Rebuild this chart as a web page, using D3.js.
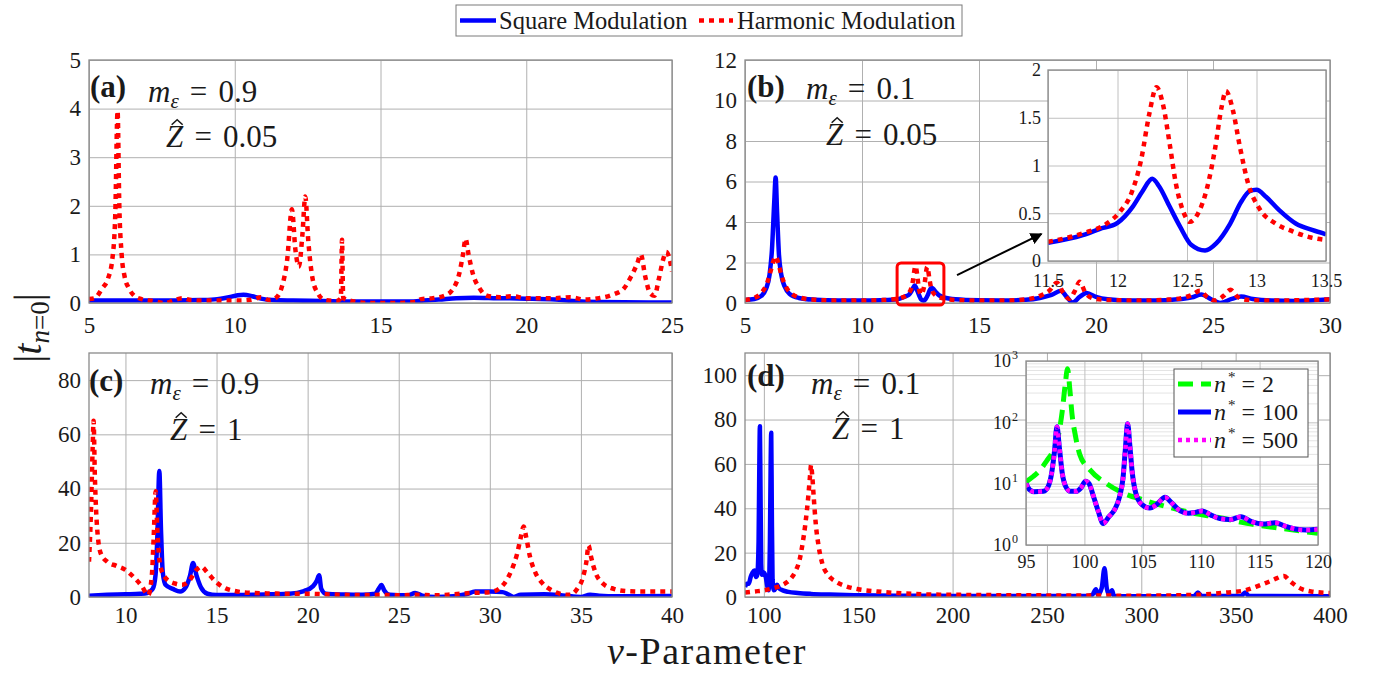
<!DOCTYPE html>
<html>
<head>
<meta charset="utf-8">
<script src="https://cdn.jsdelivr.net/npm/d3@7"></script>
<style>
  body { margin: 0; background: #fff; }
  svg text { font-family: "Liberation Serif", "Times New Roman", serif; fill: #1a1a1a; }
</style>
</head>
<body>
<svg id="chart" width="1373" height="673"></svg>
<script>
// ---------------------------------------------------------------
// |t_{n=0}| versus nu for square and harmonic modulation profiles
// ---------------------------------------------------------------

// Panel (a): m_eps = 0.9, Z = 0.05
const aTicksX = [5, 10, 15, 20, 25];
const aTicksY = [0, 1, 2, 3, 4, 5];
const aSquare = [[5,0.05],[6,0.05],[7,0.05],[8,0.05],[8.8,0.06],[9.4,0.08],[9.8,0.12],[10.1,0.16],[10.3,0.17],[10.6,0.14],[10.9,0.09],[11.3,0.06],[12,0.05],[13,0.04],[14,0.03],[15,0.03],[16,0.03],[16.5,0.05],[17,0.07],[17.6,0.1],[18.2,0.11],[19,0.1],[20,0.09],[21,0.07],[21.6,0.04],[22.5,0.02],[25,0.01]];
const aHarmonic = [[5,0.08],[5.2,0.1],[5.45,0.3],[5.65,0.5],[5.8,0.9],[5.9,1.8],[5.98,3.95],[6.04,2.0],[6.12,1.0],[6.22,0.55],[6.37,0.3],[6.55,0.15],[6.8,0.08],[7.2,0.04],[7.6,0.0],[7.9,0.05],[8.2,0.1],[8.5,0.06],[9,0.05],[9.6,0.05],[10.2,0.05],[10.6,0.07],[10.9,0.12],[11.2,0.06],[11.4,0.1],[11.6,0.3],[11.8,0.9],[11.96,1.93],[12.08,1.1],[12.2,0.75],[12.32,1.4],[12.42,2.19],[12.52,1.3],[12.67,0.5],[12.85,0.2],[13.1,0.06],[13.5,0.04],[13.64,0.1],[13.68,1.3],[13.72,0.1],[14.1,0.03],[14.6,0.0],[15.5,0.0],[16.2,0.02],[16.4,0.08],[16.8,0.1],[17.2,0.15],[17.5,0.3],[17.7,0.6],[17.83,1.0],[17.92,1.32],[18.02,1.0],[18.17,0.6],[18.4,0.3],[18.65,0.15],[19.1,0.12],[19.5,0.14],[20,0.1],[20.5,0.1],[21,0.1],[21.5,0.12],[22,0.07],[22.5,0.1],[23,0.18],[23.35,0.3],[23.6,0.55],[23.8,0.8],[23.93,1.0],[24.08,0.55],[24.25,0.2],[24.4,0.15],[24.55,0.5],[24.7,0.9],[24.8,1.05],[24.92,0.9],[25,0.65]];

// Panel (b): m_eps = 0.1, Z = 0.05
const bTicksX = [5, 10, 15, 20, 25, 30];
const bTicksY = [0, 2, 4, 6, 8, 10, 12];
const bSquareLow = [[5,0.15],[5.4,0.2],[5.7,0.35],[5.9,0.7],[6.05,1.4],[6.15,2.6],[6.25,5.0],[6.31,6.2],[6.37,4.5],[6.45,2.4],[6.55,1.4],[6.7,0.8],[6.9,0.45],[7.3,0.25],[8,0.16],[9,0.12],[10,0.12],[10.8,0.14]];
const bSquareHigh = [[14,0.18],[15,0.13],[16,0.12],[17,0.16],[17.6,0.25],[18.1,0.4],[18.5,0.6],[18.75,0.3],[19.0,0.02],[19.3,0.3],[19.6,0.5],[20.0,0.3],[20.5,0.18],[21.5,0.12],[22.5,0.12],[23.5,0.18],[24.1,0.28],[24.5,0.42],[24.9,0.2],[25.3,0.0],[25.8,0.2],[26.2,0.32],[26.7,0.2],[27.5,0.12],[28.5,0.1],[30,0.18]];
const bHarmonicLow = [[5,0.15],[5.4,0.25],[5.7,0.5],[5.95,1.0],[6.1,1.6],[6.22,2.1],[6.3,2.3],[6.42,2.0],[6.55,1.4],[6.75,0.8],[7,0.45],[7.4,0.25],[8,0.16],[9,0.12],[10,0.12],[10.8,0.14]];
const bHarmonicHigh = [[14,0.15],[15,0.12],[16,0.12],[17,0.18],[17.6,0.35],[18.0,0.6],[18.33,1.0],[18.6,0.5],[18.85,0.2],[19.1,0.6],[19.3,1.05],[19.55,0.5],[19.9,0.22],[20.5,0.15],[22,0.12],[23,0.16],[23.7,0.25],[24.1,0.4],[24.44,0.6],[24.75,0.3],[25.1,0.12],[25.45,0.35],[25.75,0.65],[26.05,0.3],[26.5,0.15],[27.5,0.12],[30,0.18]];

// Panel (b) inset: 11.5 <= nu <= 13.5
const bInsetTicksX = [11.5, 12, 12.5, 13, 13.5];
const bInsetTicksY = [0, 0.5, 1, 1.5, 2];
const bZoomSquare = [[11.5,0.19],[11.75,0.27],[11.87,0.335],[12.0,0.4],[12.11,0.57],[12.18,0.73],[12.25,0.86],[12.3,0.78],[12.375,0.57],[12.45,0.36],[12.53,0.17],[12.63,0.11],[12.71,0.185],[12.81,0.39],[12.89,0.62],[12.95,0.73],[13.0,0.745],[13.07,0.67],[13.165,0.53],[13.285,0.39],[13.4,0.325],[13.5,0.28]];
const bZoomHarmonic = [[11.5,0.2],[11.75,0.29],[11.92,0.39],[12.02,0.52],[12.1,0.71],[12.17,1.06],[12.23,1.55],[12.28,1.82],[12.33,1.62],[12.375,1.23],[12.42,0.81],[12.47,0.53],[12.52,0.41],[12.58,0.5],[12.64,0.74],[12.7,1.16],[12.75,1.62],[12.78,1.78],[12.83,1.58],[12.88,1.2],[12.94,0.81],[13.02,0.55],[13.14,0.39],[13.26,0.31],[13.38,0.25],[13.5,0.22]];
const bSquare = [...bSquareLow, ...bZoomSquare, ...bSquareHigh];
const bHarmonic = [...bHarmonicLow, ...bZoomHarmonic, ...bHarmonicHigh];

// Panel (c): m_eps = 0.9, Z = 1
const cTicksX = [10, 15, 20, 25, 30, 35, 40];
const cTicksY = [0, 20, 40, 60, 80];
const cSquare = [[8,0.5],[9,0.8],[10,1],[10.8,1.2],[11.2,1.5],[11.5,3],[11.65,8],[11.75,22],[11.86,46.5],[11.95,25],[12.05,9],[12.2,4.5],[12.6,3],[13.0,2],[13.3,3.5],[13.55,8],[13.71,12.5],[13.9,8],[14.15,3.5],[14.5,1.2],[15,0.7],[16,0.7],[17,0.8],[18,1],[19,1.2],[19.8,2.2],[20.3,4],[20.5,6],[20.63,8],[20.75,3],[21,1.2],[22,0.9],[23,0.8],[23.7,1.2],[23.9,3],[24.05,4.4],[24.2,2.5],[24.5,0.8],[25.5,0.6],[25.9,1.5],[26.3,0.5],[27,0],[28,0.3],[28.7,1],[29.2,2],[30,2],[30.7,1.8],[31.0,1],[31.3,0],[31.7,0.8],[33,1],[34,0.6],[35,0],[35.5,0.8],[36,0.5],[37,0.3],[40,0.4]];
const cHarmonic = [[8.0,13],[8.1,30],[8.2,55],[8.25,65],[8.32,45],[8.45,25],[8.65,16],[9.0,13],[9.5,11.5],[10.0,10],[10.5,7],[10.9,4],[11.25,0.7],[11.45,8],[11.55,22],[11.66,39],[11.75,25],[11.9,12],[12.2,7],[12.7,5],[13.1,4.5],[13.5,6],[13.9,10],[14.15,11.2],[14.5,9],[14.9,6],[15.4,3.5],[16,2.2],[17,1.5],[18,1.3],[19,1.2],[20,1.2],[21,1],[22,0.8],[23,0.7],[24,0.8],[25,0.6],[26,0.8],[27,0.6],[28,1],[29,1.5],[30,1.8],[30.5,3],[30.9,6],[31.2,10],[31.5,16],[31.7,22],[31.86,26],[32.0,22],[32.2,15],[32.5,9],[32.9,5],[33.4,2.5],[34,1],[34.4,0.8],[34.8,3],[35.1,7],[35.3,13],[35.42,19],[35.55,15],[35.8,9],[36.2,5],[36.8,3],[37.5,2.2],[38.5,2],[40,2]];

// Panel (d): m_eps = 0.1, Z = 1
const dTicksX = [100, 150, 200, 250, 300, 350, 400];
const dTicksY = [0, 20, 40, 60, 80, 100];
const dSquare = [[90,4.5],[91,6],[92,6],[93,9],[94,11],[95,12],[95.8,9],[96.5,10],[97.2,25],[97.6,60],[97.9,77],[98.2,50],[98.6,15],[99,10],[100,11],[101,9],[101.8,5],[102.5,3],[103.2,25],[103.6,60],[103.9,74],[104.2,40],[104.6,8],[105.3,3],[106.3,4],[107,5.5],[108,4],[110,3],[113,2.3],[118,1.8],[125,1.4],[135,1.1],[150,0.8],[170,0.6],[200,0.5],[240,0.4],[270,0.4],[274,1],[276,3.5],[277,1],[279,4],[280.5,13],[281.7,4],[283,1],[284.5,3],[285.5,0.5],[300,0.3],[328,0.4],[330,2],[332,0.4],[353,0.5],[355,2],[357,0.5],[400,0.3]];
const dHarmonic = [[90,2],[95,2.5],[100,3],[105,4],[110,5.5],[114,8],[117,12],[119,17],[120.5,24],[122,33],[123.5,45],[124.6,56],[125,59.5],[125.6,55],[126.5,44],[127.5,33],[129,23],[131,15],[134,10],[138,7],[143,5],[150,3.5],[160,2.5],[170,1.8],[185,1.2],[200,1],[230,0.8],[260,0.7],[300,0.6],[330,1],[345,2],[355,3],[362,5],[368,7],[372,8.5],[375.6,9.5],[379,7],[384,4],[390,2.5],[400,1.8]];

// Panel (d) inset, log scale: truncation order n*
const dInsetTicksX = [95, 100, 105, 110, 115, 120];
const dInsetTicksY = [1, 10, 100, 1000];
const dInsetN2 = [[95,10.7],[95.6,13],[96.2,16.6],[96.8,24],[97.2,31],[97.8,65],[98.1,150],[98.35,400],[98.56,745],[98.75,350],[98.95,130],[99.2,65],[99.6,30],[100.5,16.6],[101.9,10],[103.07,7.4],[105.07,5.4],[107.07,4.2],[109.35,3.3],[111.5,2.8],[113.9,2.25],[117,1.85],[120,1.55]];
const dInsetN100 = [[95,10],[95.3,8],[95.7,7.4],[96.5,7.5],[96.9,9],[97.2,15],[97.45,35],[97.65,85],[97.85,40],[98.1,15],[98.4,9],[98.8,7.5],[99.3,7.5],[99.7,8.5],[100.1,11],[100.4,10],[100.8,6],[101.2,3.5],[101.6,2.25],[102.1,2.9],[102.6,3.8],[103.0,6],[103.3,12],[103.5,35],[103.7,95],[103.9,40],[104.1,15],[104.4,7],[104.9,4.6],[105.6,4],[106.2,4.6],[106.9,6],[107.5,4.8],[108.2,3.6],[108.9,3.3],[109.5,3.4],[110.1,3.6],[110.8,3.1],[111.6,2.7],[112.5,2.6],[113.4,2.9],[114.3,2.4],[115.3,2.2],[116.3,2.3],[117.3,2.0],[118.2,1.8],[119,1.75],[120,1.8]];
// n* = 500 converges onto the n* = 100 result
const dInsetN500 = [[95,10],[95.3,8],[95.7,7.4],[96.5,7.5],[96.9,9],[97.2,15],[97.45,35],[97.65,85],[97.85,40],[98.1,15],[98.4,9],[98.8,7.5],[99.3,7.5],[99.7,8.5],[100.1,11],[100.4,10],[100.8,6],[101.2,3.5],[101.6,2.25],[102.1,2.9],[102.6,3.8],[103.0,6],[103.3,12],[103.5,35],[103.7,95],[103.9,40],[104.1,15],[104.4,7],[104.9,4.6],[105.6,4],[106.2,4.6],[106.9,6],[107.5,4.8],[108.2,3.6],[108.9,3.3],[109.5,3.4],[110.1,3.6],[110.8,3.1],[111.6,2.7],[112.5,2.6],[113.4,2.9],[114.3,2.4],[115.3,2.2],[116.3,2.3],[117.3,2.0],[118.2,1.8],[119,1.75],[120,1.8]];

const seriesNames = ["Square Modulation", "Harmonic Modulation"];
const insetNames = ["2", "100", "500"];

// ---------------------------------------------------------------
const svg = d3.select("#chart");
const defs = svg.append("defs");
const BLUE = "#0000ff", RED = "#ff0000", GREEN = "#00ff00", MAGENTA = "#ff00ff";
const GRID = "#b0b0b0", FRAME = "#8a8a8a";
const squareStyle = { color: BLUE, width: 4.5 };
const harmonicStyle = { color: RED, width: 4.5, dash: "5,5" };
let clipCount = 0;

function makePanel(box, xDom, yDom, xTicks, yTicks, opt = {}) {
  const w = box.x1 - box.x0, h = box.y1 - box.y0;
  const x = d3.scaleLinear().domain(xDom).range([box.x0, box.x1]);
  const y = (opt.log ? d3.scaleLog() : d3.scaleLinear()).domain(yDom).range([box.y1, box.y0]);
  const g = svg.append("g");
  g.append("rect").attr("x", box.x0).attr("y", box.y0).attr("width", w).attr("height", h).attr("fill", "#fff");
  if (opt.minor) {
    g.append("g").selectAll("line").data(opt.minor).join("line")
      .attr("x1", box.x0).attr("x2", box.x1).attr("y1", d => y(d)).attr("y2", d => y(d))
      .attr("stroke", "#e4e4e4").attr("stroke-width", 1);
  }
  const fs = opt.fontSize || 23;
  const ax = g.append("g").attr("transform", `translate(0,${box.y1})`)
    .call(d3.axisBottom(x).tickValues(xTicks).tickSize(-h).tickSizeOuter(0).tickPadding(opt.xPad || 14).tickFormat(d3.format("")));
  const ay = g.append("g").attr("transform", `translate(${box.x0},0)`)
    .call(d3.axisLeft(y).tickValues(yTicks).tickSize(-w).tickSizeOuter(0).tickPadding(opt.yPad || 8).tickFormat(opt.yFormat || d3.format("")));
  [ax, ay].forEach(a => {
    a.select(".domain").remove();
    a.selectAll(".tick line").attr("stroke", opt.gridColor || GRID).attr("stroke-width", 1);
    a.selectAll(".tick text").attr("font-family", "Liberation Serif").attr("font-size", fs).attr("fill", "#262626");
  });
  const id = "clip" + (clipCount++);
  defs.append("clipPath").attr("id", id).append("rect")
    .attr("x", box.x0).attr("y", box.y0).attr("width", w).attr("height", h);
  const plot = g.append("g").attr("clip-path", `url(#${id})`);
  return { g, ax, ay, plot, x, y, box };
}

function frame(p) {
  const b = p.box;
  p.g.append("rect").attr("x", b.x0).attr("y", b.y0).attr("width", b.x1 - b.x0).attr("height", b.y1 - b.y0)
    .attr("fill", "none").attr("stroke", FRAME).attr("stroke-width", 1.3);
}

function drawSeries(p, data, style) {
  const line = d3.line().x(d => p.x(d[0])).y(d => p.y(d[1])).curve(d3.curveMonotoneX);
  p.plot.append("path").attr("d", line(data))
    .attr("fill", "none").attr("stroke", style.color).attr("stroke-width", style.width)
    .attr("stroke-dasharray", style.dash || null).attr("stroke-linejoin", "round");
}

// Panel tag "(a)" plus the m_eps and Z-hat parameter lines
function annotate(tag, tx, ty, mx, my, mVal, zx, zy, zVal) {
  svg.append("text").attr("x", tx).attr("y", ty).attr("font-size", 31).attr("font-weight", "bold").text(tag);
  const fs = 31;
  const m = svg.append("text").attr("x", mx).attr("y", my).attr("font-size", fs);
  m.append("tspan").attr("font-style", "italic").text("m");
  m.append("tspan").attr("font-style", "italic").attr("font-size", fs * 0.68).attr("dy", fs * 0.2).text("ε");
  m.append("tspan").attr("dy", -fs * 0.2).attr("dx", fs * 0.36).text("=");
  m.append("tspan").attr("dx", fs * 0.36).text(mVal);
  const z = svg.append("text").attr("x", zx).attr("y", zy).attr("font-size", fs);
  z.append("tspan").attr("font-style", "italic").text("Z");
  z.append("tspan").attr("dx", fs * 0.36).text("=");
  z.append("tspan").attr("dx", fs * 0.36).text(zVal);
  // circumflex accent over the Z
  const cx = zx + fs * 0.36, top = zy - fs * 0.88;
  svg.append("path")
    .attr("d", `M${cx - 5.5},${top + 5} L${cx},${top} L${cx + 5.5},${top + 5}`)
    .attr("fill", "none").attr("stroke", "#1a1a1a").attr("stroke-width", 1.6).attr("stroke-linejoin", "miter");
}

// ---------------- Panel (a) ----------------
const pa = makePanel({ x0: 89, x1: 672, y0: 60, y1: 303 }, [5, 25], [0, 5], aTicksX, aTicksY);
drawSeries(pa, aSquare, squareStyle);
drawSeries(pa, aHarmonic, harmonicStyle);
frame(pa);
annotate("(a)", 90, 97, 148, 102, "0.9", 166, 147, "0.05");

// ---------------- Panel (b) ----------------
const pb = makePanel({ x0: 745, x1: 1330, y0: 60, y1: 303 }, [5, 30], [0, 12], bTicksX, bTicksY);
drawSeries(pb, bSquare, squareStyle);
drawSeries(pb, bHarmonic, harmonicStyle);
frame(pb);
// highlight box around the zoomed region
pb.g.append("rect")
  .attr("x", pb.x(11.5)).attr("y", pb.y(1.98))
  .attr("width", pb.x(13.5) - pb.x(11.5)).attr("height", pb.y(-0.1) - pb.y(1.98))
  .attr("rx", 4).attr("fill", "none").attr("stroke", RED).attr("stroke-width", 3);
defs.append("marker").attr("id", "arrowHead").attr("viewBox", "0 0 10 10").attr("refX", 9).attr("refY", 5)
  .attr("markerWidth", 6).attr("markerHeight", 6).attr("orient", "auto")
  .append("path").attr("d", "M0,0 L10,5 L0,10 Z").attr("fill", "#000");
pb.g.append("line")
  .attr("x1", pb.x(14.06)).attr("y1", pb.y(1.38)).attr("x2", pb.x(17.67)).attr("y2", pb.y(3.41))
  .attr("stroke", "#000").attr("stroke-width", 2).attr("marker-end", "url(#arrowHead)");
annotate("(b)", 747, 97, 806, 99, "0.1", 826, 145, "0.05");

const pbi = makePanel({ x0: 1048, x1: 1326, y0: 70, y1: 261 }, [11.5, 13.5], [0, 2], bInsetTicksX, bInsetTicksY,
  { fontSize: 18, xPad: 13, yPad: 7, gridColor: "#c0c0c0" });
drawSeries(pbi, bZoomSquare, squareStyle);
drawSeries(pbi, bZoomHarmonic, harmonicStyle);
frame(pbi);

// ---------------- Panel (c) ----------------
const pc = makePanel({ x0: 89, x1: 672, y0: 353, y1: 597 }, [8, 40], [0, 90], cTicksX, cTicksY, { xPad: 10 });
drawSeries(pc, cSquare, squareStyle);
drawSeries(pc, cHarmonic, harmonicStyle);
frame(pc);
annotate("(c)", 89, 391, 150, 394, "0.9", 170, 440, "1");

// ---------------- Panel (d) ----------------
const pd = makePanel({ x0: 745, x1: 1330, y0: 353, y1: 597 }, [90, 400], [0, 110], dTicksX, dTicksY, { xPad: 10 });
drawSeries(pd, dSquare, squareStyle);
drawSeries(pd, dHarmonic, harmonicStyle);
frame(pd);
annotate("(d)", 747, 386, 811, 394, "0.1", 832, 439, "1");

const minorLog = [];
[1, 10, 100].forEach(dec => { for (let k = 2; k <= 9; k++) minorLog.push(dec * k); });
const pdi = makePanel({ x0: 1026, x1: 1318, y0: 361, y1: 545 }, [95, 120], [1, 1000], dInsetTicksX, dInsetTicksY,
  { log: true, minor: minorLog, fontSize: 18, xPad: 10, yPad: 8, gridColor: "#c0c0c0" });
pdi.ay.selectAll(".tick text").each(function (d) {
  const t = d3.select(this).text("");
  t.append("tspan").text("10");
  t.append("tspan").attr("font-size", 12).attr("dx", 1).attr("dy", -8).text(Math.round(Math.log10(d)));
});
const n2Style = { color: GREEN, width: 5, dash: "15,8" };
const n100Style = { color: BLUE, width: 5 };
const n500Style = { color: MAGENTA, width: 4.5, dash: "4,4" };
drawSeries(pdi, dInsetN2, n2Style);
drawSeries(pdi, dInsetN100, n100Style);
drawSeries(pdi, dInsetN500, n500Style);
frame(pdi);

// inset legend
const lg = pdi.g.append("g");
lg.append("rect").attr("x", 1174).attr("y", 369).attr("width", 134).attr("height", 88)
  .attr("fill", "#fff").attr("stroke", "#555").attr("stroke-width", 1);
[n2Style, n100Style, n500Style].forEach((s, i) => {
  const yy = 384 + i * 28;
  lg.append("line").attr("x1", 1178).attr("x2", 1211).attr("y1", yy).attr("y2", yy)
    .attr("stroke", s.color).attr("stroke-width", s.width).attr("stroke-dasharray", s.dash || null);
  const t = lg.append("text").attr("x", 1214).attr("y", yy + 8).attr("font-size", 24);
  t.append("tspan").attr("font-style", "italic").text("n");
  t.append("tspan").attr("font-size", 15).attr("dx", 2).attr("dy", -10).text("*");
  t.append("tspan").attr("dy", 10).attr("dx", 6).text("=");
  t.append("tspan").attr("dx", 7).text(insetNames[i]);
});

// ---------------- shared legend ----------------
const leg = svg.append("g");
leg.append("rect").attr("x", 456).attr("y", 5).attr("width", 506).attr("height", 31)
  .attr("fill", "#fff").attr("stroke", "#7a7a7a").attr("stroke-width", 1);
leg.append("line").attr("x1", 460).attr("x2", 496).attr("y1", 20.5).attr("y2", 20.5)
  .attr("stroke", BLUE).attr("stroke-width", squareStyle.width);
leg.append("text").attr("x", 499).attr("y", 28.5).attr("font-size", 24.5).text(seriesNames[0]);
leg.append("line").attr("x1", 699).attr("x2", 733).attr("y1", 20.5).attr("y2", 20.5)
  .attr("stroke", RED).attr("stroke-width", harmonicStyle.width).attr("stroke-dasharray", harmonicStyle.dash);
leg.append("text").attr("x", 737).attr("y", 28.5).attr("font-size", 24.5).text(seriesNames[1]);

// ---------------- axis titles ----------------
const yl = svg.append("text").attr("transform", "translate(41,328) rotate(-90)")
  .attr("text-anchor", "middle").attr("font-size", 40);
yl.append("tspan").text("|");
yl.append("tspan").attr("font-style", "italic").text("t");
yl.append("tspan").attr("font-size", 27).attr("dy", 8).attr("font-style", "italic").text("n");
yl.append("tspan").attr("font-size", 27).text("=0");
yl.append("tspan").attr("dy", -8).text("|");

const xl = svg.append("text").attr("x", 707).attr("y", 664).attr("text-anchor", "middle")
  .attr("font-size", 38).attr("letter-spacing", 1.5);
xl.append("tspan").attr("font-style", "italic").text("ν");
xl.append("tspan").text("-Parameter");
</script>
</body>
</html>
